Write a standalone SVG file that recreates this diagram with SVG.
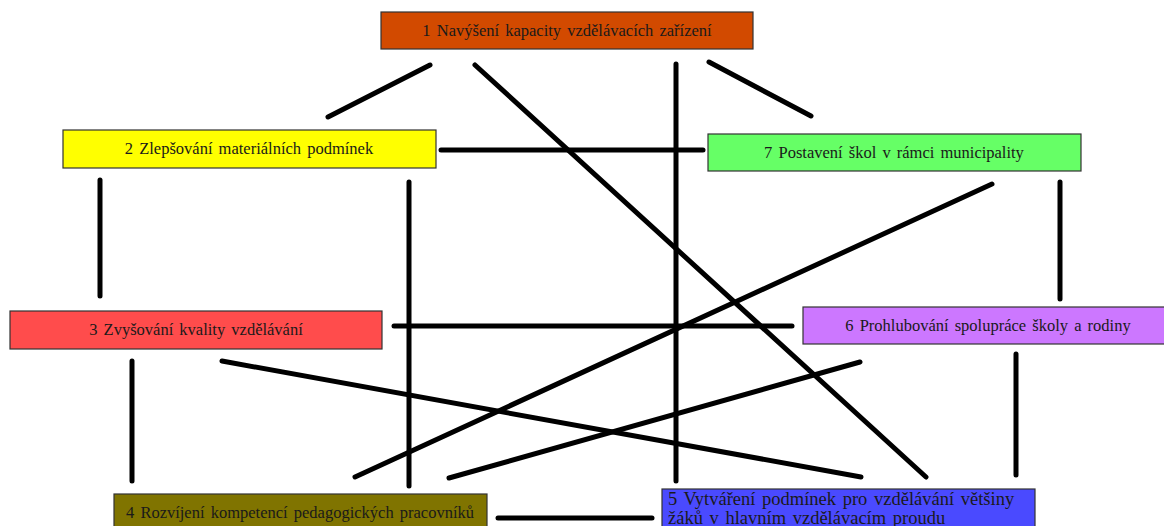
<svg xmlns="http://www.w3.org/2000/svg" width="1164" height="526" viewBox="0 0 1164 526">
<style>
.box{stroke:#333;stroke-width:1.2}
.t{font-family:"Liberation Serif","Times New Roman",serif;font-size:16.5px;word-spacing:2px;fill:#1a1a1a;text-anchor:middle}
.tl{font-family:"Liberation Serif","Times New Roman",serif;font-size:18.5px;word-spacing:2px;fill:#1a1a1a}
.c line{stroke:#000;stroke-width:5;stroke-linecap:round}
</style>
<rect width="1164" height="526" fill="#fff"/>
<g class="c" id="connectors">
<line x1="430" y1="65" x2="328" y2="117"/>
<line x1="475" y1="65" x2="926" y2="477"/>
<line x1="676" y1="64" x2="676" y2="481"/>
<line x1="709" y1="62" x2="811" y2="116"/>
<line x1="441" y1="150" x2="703" y2="150"/>
<line x1="100" y1="180" x2="100" y2="296"/>
<line x1="409" y1="182" x2="409" y2="486"/>
<line x1="992" y1="184" x2="355" y2="477"/>
<line x1="1060" y1="182" x2="1060" y2="299"/>
<line x1="394" y1="326" x2="792" y2="326"/>
<line x1="132" y1="361" x2="132" y2="481"/>
<line x1="222" y1="361" x2="861" y2="477"/>
<line x1="860" y1="362" x2="449" y2="478"/>
<line x1="1016" y1="354" x2="1016" y2="475"/>
<line x1="498" y1="518" x2="652" y2="518"/>
</g>
<g id="node1"><rect class="box" x="381" y="12" width="372" height="37" fill="#D24A00"/><text class="t" x="567" y="36">1 Navýšení kapacity vzdělávacích zařízení</text></g>
<g id="node2"><rect class="box" x="63" y="130" width="373" height="38" fill="#FFFF00"/><text class="t" x="249" y="154">2 Zlepšování materiálních podmínek</text></g>
<g id="node7"><rect class="box" x="708" y="134" width="373" height="37" fill="#66FF66"/><text class="t" x="894" y="158">7 Postavení škol v rámci municipality</text></g>
<g id="node3"><rect class="box" x="10" y="311" width="372" height="38" fill="#FF4C4C"/><text class="t" x="196" y="335">3 Zvyšování kvality vzdělávání</text></g>
<g id="node6"><rect class="box" x="803" y="307" width="372" height="37" fill="#CC77FF"/><text class="t" x="988" y="331">6 Prohlubování spolupráce školy a rodiny</text></g>
<g id="node4"><rect class="box" x="114" y="494" width="373" height="40" fill="#807400"/><text class="t" x="300" y="518">4 Rozvíjení kompetencí pedagogických pracovníků</text></g>
<g id="node5"><rect class="box" x="662" y="489" width="373" height="45" fill="#4A4AFF"/><text class="tl" x="668" y="505">5 Vytváření podmínek pro vzdělávání většiny</text><text class="tl" x="668" y="524">žáků v hlavním vzdělávacím proudu</text></g>
</svg>
